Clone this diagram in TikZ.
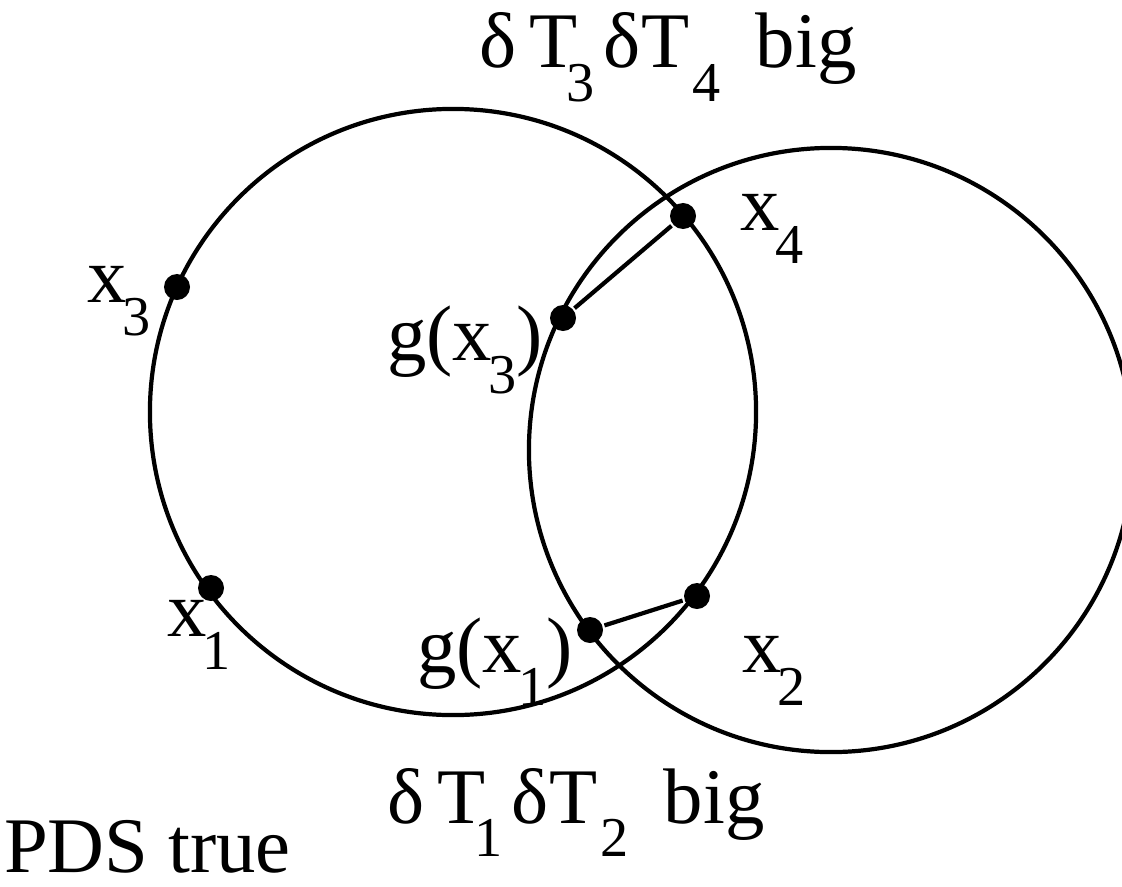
\documentclass[tikz,border=0pt]{standalone}
\usepackage{fontspec}
\setmainfont{Liberation Serif}
\usetikzlibrary{positioning}

\newcommand\sbs[1]{\raisebox{-0.42em}{\fontsize{40}{40}\selectfont #1}}

\begin{document}
\begin{tikzpicture}[x=0.025cm,y=-0.025cm,line width=3pt,
  dot/.style={circle,fill,inner sep=0pt,minimum size=0.65cm},
  lbl/.style={inner sep=0pt,anchor=base west,font=\fontsize{56}{60}\selectfont}]
\useasboundingbox (0,0) rectangle (1122,886);
\clip (0,0) rectangle (1122,886);
% the two circles
\draw (453,412) circle[radius=7.575cm];
\draw (831,450) circle[radius=7.55cm];
% points
\node[dot] (x3) at (177,287) {};
\node[dot] (x1) at (211,588) {};
\node[dot] (gx3) at (563,318) {};
\node[dot] (x4) at (683,216) {};
\node[dot] (x2) at (697,596) {};
\node[dot] (gx1) at (590,630) {};
\draw (gx3) -- (x4);
\draw (gx1) -- (x2);
% labels
\node[lbl] (t34) at (477,68) {δ\,T\kern-0.14em\sbs{3}\kern0.12emδT\kern0.04em\sbs{4}\kern0.45em big};
\node[lbl] (t12) at (385,823) {δ\,T\kern-0.14em\sbs{1}\kern0.12emδT\kern0.04em\sbs{2}\kern0.45em big};
\node[lbl] (pds) at (2,872) {PDS true};
\node[lbl] (lx3) at (85,302) {x\kern-0.05em\sbs{3}};
\node[lbl] (lx1) at (165,636) {x\kern-0.05em\sbs{1}};
\node[lbl] (lgx3) at (385,360) {g(x\kern-0.05em\sbs{3})};
\node[lbl] (lx4) at (738,230) {x\kern-0.05em\sbs{4}};
\node[lbl] (lgx1) at (415,672) {g(x\kern-0.05em\sbs{1})};
\node[lbl] (lx2) at (740,672) {x\kern-0.05em\sbs{2}};
\end{tikzpicture}
\end{document}
